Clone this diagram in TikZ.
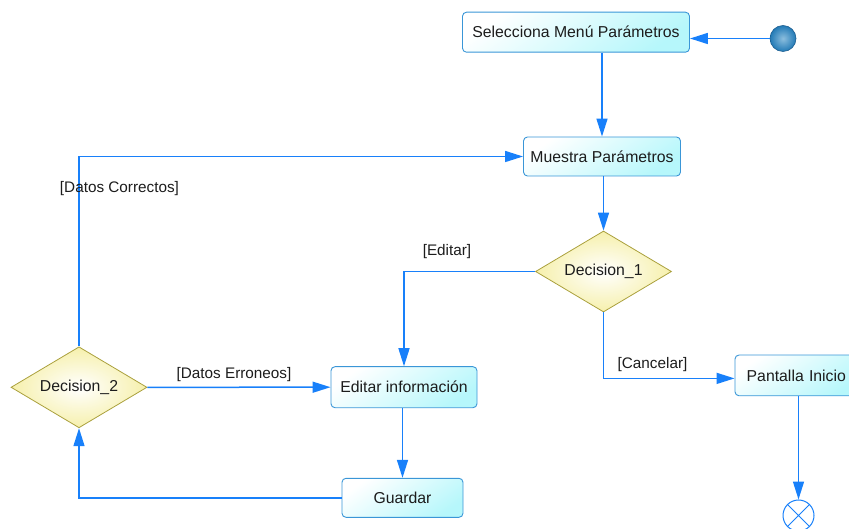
\documentclass[tikz,border=0pt]{standalone}
\usepackage{fontspec}
\setmainfont{Liberation Sans}
\usetikzlibrary{arrows.meta,shapes.geometric}

\definecolor{flowblue}{RGB}{24,128,250}
\definecolor{boxedge}{RGB}{58,150,215}
\definecolor{boxfill}{RGB}{182,247,251}
\definecolor{diamedge}{RGB}{170,160,60}
\definecolor{diamfill}{RGB}{246,240,172}
\definecolor{inkdark}{RGB}{28,28,28}
\definecolor{ballhi}{RGB}{140,190,222}
\definecolor{balllo}{RGB}{34,122,182}
\definecolor{startedge}{RGB}{30,95,145}

\tikzset{
  x=1pt, y=-1pt,
  every node/.style={text=inkdark, font=\fontsize{15.8}{18}\selectfont},
  actbox/.style={rectangle, rounded corners=4pt, draw=boxedge, line width=0.9pt,
    top color=white, bottom color=boxfill, shading angle=35,
    minimum height=40pt, inner sep=0pt},
  choice/.style={diamond, draw=diamedge, line width=0.8pt,
    inner color=white, outer color=diamfill,
    minimum width=136pt, minimum height=81pt, aspect=1.68, inner sep=0pt},
  guard/.style={font=\fontsize{15.3}{18}\selectfont, inner sep=0pt},
  conn/.style={draw=flowblue, line width=1.5pt,
    -{Triangle[length=18pt,width=11pt,fill=flowblue]}},
}

\begin{document}
\begin{tikzpicture}
\useasboundingbox (0,0) rectangle (849,529);
\clip (0,0) rectangle (849,529);

% activity boxes
\node[actbox, minimum width=227pt] (sel) at (576,32.2) {Selecciona Menú Parámetros};
\node[actbox, minimum width=157pt, minimum height=39pt] (mue) at (602,156.5) {Muestra Parámetros};
\node[actbox, minimum width=146pt, minimum height=41pt] (edt) at (404,387.2) {Editar información};
\node[actbox, minimum width=121pt, minimum height=39pt] (gua) at (402.5,497.8) {Guardar};
\node[actbox, text width=102.6pt, inner xsep=11.7pt, align=left, minimum height=40.7pt]
  (pan) at (798,375.4) {Pantalla Inicio};

% decision nodes
\node[choice] (d1) at (603.5,271.5) {Decision\_1};
\node[choice] (d2) at (79,387.3) {Decision\_2};

% initial and final nodes
\node[circle, minimum size=26pt, inner sep=0pt, inner color=ballhi, outer color=balllo,
  draw=startedge, line width=0.6pt] (init) at (783,38.5) {};
\node[circle, minimum size=31pt, inner sep=0pt, draw=flowblue, fill=white,
  line width=1pt] (fin) at (798.5,515.5) {};
\draw[flowblue, line width=1pt] (fin.north east) -- (fin.south west)
  (fin.north west) -- (fin.south east);

% control flow
\draw[conn] (init.west) -- (init.west -| sel.east);
\draw[conn] (sel.south -| mue.north) -- (mue.north);
\draw[conn] (mue.south -| d1.north) -- (d1.north);
\draw[conn] (d1.west) -| (edt.north);
\draw[conn] (d1.south) |- ([yshift=-3pt]pan.west);
\draw[conn] (d2.east) -- (edt.west);
\draw[conn] (edt.south -| gua.north) -- (gua.north);
\draw[conn] (gua.west) -| (d2.south);
\draw[conn] (d2.north) |- (mue.west);
\draw[conn] (pan.south -| fin.north) -- (fin.north);

% guard labels
\node[guard] (gEdit) at (447,251.5) {[Editar]};
\node[guard] (gCanc) at (652.5,364.5) {[Cancelar]};
\node[guard] (gErr) at (234,375) {[Datos Erroneos]};
\node[guard] (gOk) at (119.5,189) {[Datos Correctos]};
\end{tikzpicture}
\end{document}
